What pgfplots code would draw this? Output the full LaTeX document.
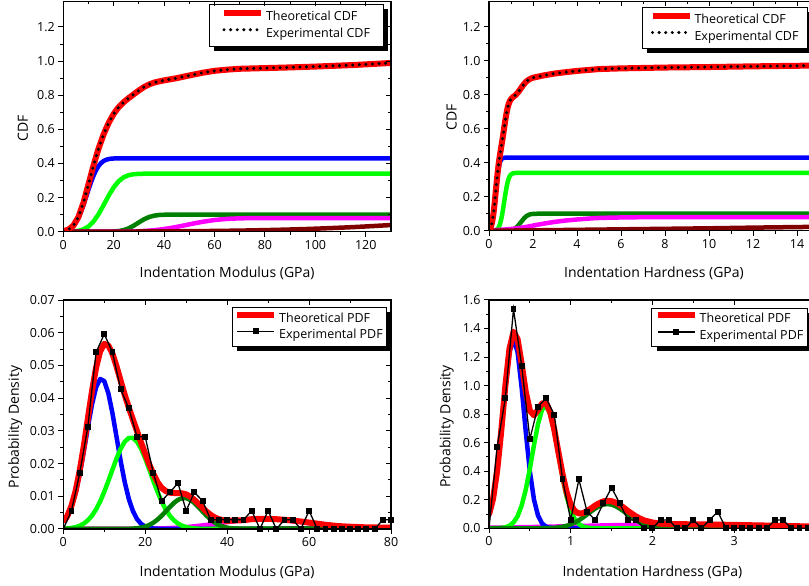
\documentclass[border=0pt]{standalone}
\usepackage{pgfplots}
\pgfplotsset{compat=1.18}
\usepackage{fontspec}
\setmainfont{Open Sans}
\definecolor{cblue}{RGB}{0,0,255}
\definecolor{cgreen}{RGB}{0,255,0}
\definecolor{cdgreen}{RGB}{0,128,0}
\definecolor{cmag}{RGB}{255,0,255}
\definecolor{cbrown}{RGB}{128,0,0}
\definecolor{cred}{RGB}{255,0,0}
\pgfplotsset{
 base/.style={scale only axis, anchor=south west, axis line style={line width=1.1pt},
   every tick/.style={black, line width=1pt}, major tick length=5pt, minor tick length=3pt,
   minor x tick num=1, minor y tick num=1, ymin=0, xmin=0, scaled ticks=false},
 main/.style={base, tick align=outside, xtick pos=left, ytick pos=left,
   ticklabel style={font=\fontsize{12.5}{14}\selectfont},
   /pgf/number format/assume math mode=true,
   label style={font=\fontsize{14}{16}\selectfont},
   legend cell align=left,
   legend style={draw=none, fill=none, anchor=center,
     font=\fontsize{12.5}{15}\selectfont, inner sep=0pt, row sep=1.5pt, column sep=1pt,
     nodes={inner xsep=1pt, inner ysep=2pt}},
   legend image code/.code={\draw[mark repeat=2, mark phase=2, ##1] plot coordinates {(0pt,3.5pt) (18.5pt,3.5pt) (37pt,3.5pt)};}},
 frame/.style={base, tick align=inside, xtick pos=right, ytick pos=right, xticklabels={}, yticklabels={}},
 comp/.style={line width=4.5pt, line join=round, forget plot},
 theo/.style={cred, line width=6pt, line join=round},
 expcdf/.style={black, line width=3.4pt, line cap=round, dash pattern=on 0pt off 6.6pt},
 exppdf/.style={black, line width=1.3pt, mark=square*, mark size=2.3pt, mark phase=2, mark options={solid}},
}
% legend frame with solid offset shadow, in axis description coordinates
\newcommand\legbox[4]{%
  \fill[black] ([xshift=5pt,yshift=-5pt]axis description cs:#1,#4) rectangle ([xshift=5pt,yshift=-5pt]axis description cs:#3,#2);
  \filldraw[fill=white, draw=black, line width=0.9pt] (axis description cs:#1,#4) rectangle (axis description cs:#3,#2);}
\begin{document}
\begin{tikzpicture}
\path[use as bounding box] (0,0) rectangle (809pt,586pt);
\clip (0,0) rectangle (809pt,586pt);

%%%%%%%%%%%%%%%% top-left: modulus CDF
\begin{axis}[main, at={(63.3pt,354.3pt)}, width=327.7pt, height=230.3pt, xmax=130, ymax=1.35,
  xtick={0,20,40,60,80,100,120}, ytick={0,0.2,0.4,0.6,0.8,1.0,1.2},
  yticklabel style={/pgf/number format/fixed, /pgf/number format/precision=1, /pgf/number format/fixed zerofill},
  xlabel={Indentation Modulus (GPa)}, ylabel={CDF},
  xlabel style={at={(axis description cs:0.5,-0.179)}, anchor=center},
  ylabel style={at={(axis description cs:-0.123,0.45)}, anchor=center},
  legend style={at={(axis description cs:0.7101,0.8975)}}]
\addplot[comp, cblue] coordinates {(0,0.0027)(1,0.0056)(2,0.0108)(3,0.0196)(4,0.0334)(5,0.0535)(6,0.0808)(7,0.1155)(8,0.1564)(9,0.2012)(10,0.247)(11,0.2905)(12,0.329)(13,0.361)(14,0.3854)(15,0.4028)(16,0.4144)(17,0.4216)(18,0.4258)(19,0.428)(20,0.4291)(22,0.4298)(24,0.43)(130,0.43)};
\addplot[comp, cgreen] coordinates {(0,0.0001)(2,0.0005)(4,0.0017)(6,0.0051)(8,0.0135)(10,0.0305)(12,0.0599)(14,0.1029)(16,0.156)(18,0.2114)(20,0.2602)(22,0.2965)(24,0.3194)(26,0.3316)(28,0.337)(30,0.3391)(32,0.3398)(35,0.34)(130,0.34)};
\addplot[comp, cdgreen] coordinates {(0,0)(18,0.0004)(20,0.0012)(22,0.0037)(24,0.0095)(26,0.0202)(28,0.036)(30,0.0547)(32,0.0724)(34,0.0858)(36,0.0939)(38,0.0979)(40,0.0994)(44,0.1)(130,0.1)};
\addplot[comp, cmag, smooth] coordinates {(0,0)(15,0.0001)(20,0.0002)(25,0.0009)(30,0.0028)(35,0.0073)(40,0.0157)(45,0.0281)(50,0.043)(55,0.0573)(60,0.0682)(65,0.0749)(70,0.0782)(75,0.0795)(80,0.08)(130,0.08)};
\addplot[comp, cbrown, smooth] coordinates {(0,0.0003)(10,0.0005)(20,0.0007)(30,0.0012)(40,0.0019)(50,0.0029)(60,0.0044)(70,0.0064)(80,0.0092)(90,0.0129)(100,0.0176)(115,0.0269)(130,0.039)};
\addplot[theo] coordinates {(0,0.003)(2,0.0116)(4,0.0354)(6,0.0862)(8,0.170)(10,0.278)(12,0.389)(14,0.488)(16,0.571)(18,0.638)(20,0.691)(22,0.731)(24,0.760)(26,0.784)(28,0.806)(30,0.828)(32,0.848)(34,0.863)(36,0.874)(38,0.881)(40,0.887)(45,0.900)(50,0.916)(55,0.931)(60,0.943)(65,0.950)(70,0.955)(80,0.959)(90,0.963)(100,0.968)(115,0.977)(130,0.989)};
\addlegendentry{Theoretical CDF}
\addplot[expcdf] coordinates {(0,0.003)(2,0.0116)(4,0.0354)(6,0.0862)(8,0.170)(10,0.278)(12,0.389)(14,0.488)(16,0.571)(18,0.638)(20,0.691)(22,0.731)(24,0.760)(26,0.784)(28,0.806)(30,0.828)(32,0.848)(34,0.863)(36,0.874)(38,0.881)(40,0.887)(45,0.900)(50,0.916)(55,0.931)(60,0.943)(65,0.950)(70,0.955)(80,0.959)(90,0.963)(100,0.968)(115,0.977)(130,0.989)};
\addlegendentry{Experimental CDF}
\legbox{0.4446}{0.8063}{0.9756}{0.9887}
\end{axis}
\begin{axis}[frame, at={(63.3pt,354.3pt)}, width=327.7pt, height=230.3pt, xmax=130, ymax=1.35,
  xtick={0,20,40,60,80,100,120}, ytick={0,0.2,0.4,0.6,0.8,1.0,1.2}]
\end{axis}

%%%%%%%%%%%%%%%% top-right: hardness CDF
\begin{axis}[main, at={(489pt,355.3pt)}, width=330pt, height=229.2pt, xmax=15, ymax=1.35,
  xtick={0,2,4,6,8,10,12,14}, ytick={0,0.2,0.4,0.6,0.8,1.0,1.2},
  yticklabel style={/pgf/number format/fixed, /pgf/number format/precision=1, /pgf/number format/fixed zerofill},
  xlabel={Indentation Hardness (GPa)}, ylabel={CDF},
  xlabel style={at={(axis description cs:0.5,-0.184)}, anchor=center},
  ylabel style={at={(axis description cs:-0.113,0.496)}, anchor=center},
  legend style={at={(axis description cs:0.7136,0.8853)}}]
\addplot[comp, cblue] coordinates {(0,0.0043)(0.05,0.0113)(0.1,0.026)(0.15,0.0526)(0.2,0.094)(0.25,0.150)(0.3,0.215)(0.35,0.280)(0.4,0.336)(0.45,0.3774)(0.5,0.404)(0.55,0.4187)(0.6,0.4257)(0.7,0.4296)(0.8,0.43)(15,0.43)};
\addplot[comp, cgreen] coordinates {(0,0)(0.25,0.0009)(0.3,0.0023)(0.35,0.0053)(0.4,0.0113)(0.45,0.0219)(0.5,0.039)(0.55,0.0639)(0.6,0.0967)(0.65,0.136)(0.7,0.1786)(0.75,0.2203)(0.8,0.2573)(0.85,0.2871)(0.9,0.3088)(0.95,0.323)(1.0,0.3315)(1.1,0.3384)(1.2,0.3398)(1.3,0.34)(15,0.34)};
\addplot[comp, cdgreen] coordinates {(0,0)(0.9,0.001)(1.0,0.0028)(1.1,0.0068)(1.2,0.0144)(1.3,0.0262)(1.4,0.0416)(1.5,0.0584)(1.6,0.0738)(1.7,0.0856)(1.8,0.0932)(1.9,0.0972)(2.0,0.099)(2.2,0.0999)(15,0.1)};
\addplot[comp, cmag, smooth] coordinates {(0,0.002)(0.5,0.005)(1,0.01)(1.5,0.018)(2,0.03)(2.5,0.042)(3,0.052)(3.5,0.06)(4,0.066)(4.5,0.071)(5,0.075)(6,0.078)(7,0.0795)(8,0.08)(15,0.08)};
\addplot[comp, cbrown] coordinates {(0,0)(2,0.002)(4,0.005)(6,0.008)(8,0.011)(10,0.014)(12,0.018)(15,0.023)};
\addplot[theo] coordinates {(0,0.006)(0.05,0.013)(0.1,0.029)(0.15,0.056)(0.2,0.097)(0.25,0.154)(0.3,0.221)(0.35,0.289)(0.4,0.351)(0.45,0.404)(0.5,0.448)(0.55,0.488)(0.6,0.528)(0.65,0.571)(0.7,0.615)(0.75,0.658)(0.8,0.695)(0.85,0.726)(0.9,0.749)(0.95,0.764)(1.0,0.775)(1.1,0.788)(1.2,0.798)(1.3,0.812)(1.4,0.829)(1.5,0.848)(1.6,0.865)(1.7,0.879)(1.8,0.889)(1.9,0.896)(2.0,0.901)(2.5,0.915)(3,0.926)(3.5,0.934)(4,0.941)(5,0.952)(6,0.956)(8,0.961)(10,0.964)(12,0.968)(15,0.973)};
\addlegendentry{Theoretical CDF}
\addplot[expcdf] coordinates {(0,0.006)(0.05,0.013)(0.1,0.029)(0.15,0.056)(0.2,0.097)(0.25,0.154)(0.3,0.221)(0.35,0.289)(0.4,0.351)(0.45,0.404)(0.5,0.448)(0.55,0.488)(0.6,0.528)(0.65,0.571)(0.7,0.615)(0.75,0.658)(0.8,0.695)(0.85,0.726)(0.9,0.749)(0.95,0.764)(1.0,0.775)(1.1,0.788)(1.2,0.798)(1.3,0.812)(1.4,0.829)(1.5,0.848)(1.6,0.865)(1.7,0.879)(1.8,0.889)(1.9,0.896)(2.0,0.901)(2.5,0.915)(3,0.926)(3.5,0.934)(4,0.941)(5,0.952)(6,0.956)(8,0.961)(10,0.964)(12,0.968)(15,0.973)};
\addlegendentry{Experimental CDF}
\legbox{0.4636}{0.7958}{0.9636}{0.9747}
\end{axis}
\begin{axis}[frame, at={(489pt,355.3pt)}, width=330pt, height=229.2pt, xmax=15, ymax=1.35,
  xtick={0,2,4,6,8,10,12,14}, ytick={0,0.2,0.4,0.6,0.8,1.0,1.2}]
\end{axis}

%%%%%%%%%%%%%%%% bottom-left: modulus PDF
\begin{axis}[main, at={(63.3pt,57pt)}, width=327.7pt, height=229pt, xmax=80, ymax=0.07,
  xtick={0,20,40,60,80}, ytick={0,0.01,0.02,0.03,0.04,0.05,0.06,0.07},
  yticklabel style={/pgf/number format/fixed, /pgf/number format/precision=2, /pgf/number format/fixed zerofill},
  xlabel={Indentation Modulus (GPa)}, ylabel={Probability Density},
  xlabel style={at={(axis description cs:0.5,-0.188)}, anchor=center},
  ylabel style={at={(axis description cs:-0.147,0.445)}, anchor=center},
  legend style={at={(axis description cs:0.7498,0.8836)}}]
\addplot[comp, cbrown] coordinates {(0,0.00002)(20,0.00005)(40,0.0001)(60,0.00018)(80,0.00032)};
\addplot[comp, cmag, smooth] coordinates {(0,0)(10,0.00001)(15,0.00002)(20,0.00007)(24,0.00018)(26,0.00028)(28,0.00041)(30,0.00059)(32,0.00082)(34,0.0011)(36,0.00141)(38,0.00176)(40,0.00211)(42,0.00243)(44,0.00271)(46,0.00292)(48,0.00303)(50,0.00303)(52,0.00292)(55,0.00258)(58,0.00211)(61,0.00158)(64,0.0011)(67,0.0007)(70,0.00041)(74,0.00018)(80,0.00004)};
\addplot[comp, cblue] coordinates {(0,0.00206)(1,0.00387)(2,0.00678)(3,0.01105)(4,0.01676)(5,0.02367)(6,0.0311)(7,0.03804)(8,0.0433)(9,0.04585)(10,0.0452)(11,0.04146)(12,0.0354)(13,0.02812)(14,0.0208)(15,0.0143)(16,0.00917)(17,0.00546)(18,0.00303)(19,0.00156)(20,0.00075)(21,0.00034)(22,0.00014)(24,0.00001)(80,0)};
\addplot[comp, cgreen] coordinates {(0,0.00008)(1,0.00017)(2,0.00032)(3,0.00057)(4,0.001)(5,0.00166)(6,0.00267)(7,0.00408)(8,0.00599)(9,0.00843)(10,0.01136)(11,0.01468)(12,0.01817)(13,0.02156)(14,0.0245)(15,0.02668)(16,0.02785)(17,0.02785)(18,0.02668)(19,0.0245)(20,0.02156)(21,0.01817)(22,0.01468)(23,0.01136)(24,0.00843)(25,0.00599)(26,0.00408)(27,0.00267)(28,0.00166)(29,0.001)(30,0.00057)(31,0.00032)(32,0.00017)(33,0.00008)(35,0.00002)(80,0)};
\addplot[comp, cdgreen] coordinates {(0,0)(14,0.00001)(15,0.00003)(16,0.00005)(17,0.00011)(18,0.00022)(19,0.00042)(20,0.00074)(21,0.00123)(22,0.00193)(23,0.00287)(24,0.00403)(25,0.00535)(26,0.00671)(27,0.00796)(28,0.00891)(29,0.00943)(30,0.00943)(31,0.00891)(32,0.00796)(33,0.00671)(34,0.00535)(35,0.00403)(36,0.00287)(37,0.00193)(38,0.00123)(39,0.00074)(40,0.00042)(41,0.00022)(42,0.00011)(44,0.00002)(80,0)};
\addplot[theo] coordinates {(0,0.0021)(1,0.0040)(2,0.0071)(3,0.0116)(4,0.0178)(5,0.0253)(6,0.0338)(7,0.0421)(8,0.0493)(9,0.0543)(10,0.0566)(11,0.0561)(12,0.0536)(13,0.0497)(14,0.0453)(15,0.0410)(16,0.0371)(17,0.0334)(18,0.0299)(19,0.0264)(20,0.0230)(21,0.0197)(22,0.0168)(23,0.0143)(24,0.0126)(25,0.0116)(26,0.0111)(27,0.0110)(28,0.0110)(29,0.0109)(30,0.0106)(31,0.0099)(32,0.0089)(33,0.0077)(34,0.0065)(35,0.0053)(36,0.0043)(37,0.0035)(38,0.0030)(39,0.0027)(40,0.0025)(42,0.0026)(44,0.0027)(46,0.0030)(48,0.0031)(50,0.0031)(52,0.0030)(55,0.0027)(58,0.0023)(61,0.0018)(64,0.0013)(67,0.0009)(70,0.0007)(74,0.0005)(80,0.0004)};
\addlegendentry{Theoretical PDF}
\addplot[exppdf] coordinates {(0,0)(2,0.0056)(4,0.017)(6,0.0313)(8,0.054)(10,0.0596)(12,0.054)(14,0.0427)(16,0.0369)(18,0.0282)(20,0.0282)(22,0.017)(24,0.0086)(26,0.0112)(28,0.014)(30,0.0056)(32,0.0112)(34,0.0086)(36,0.0028)(38,0.0028)(40,0.0028)(42,0.0028)(44,0.0028)(46,0.0056)(48,0)(50,0.0056)(52,0)(54,0.0028)(56,0.0028)(58,0)(60,0.0056)(62,0)(64,0)(66,0)(68,0)(70,0)(72,0)(74,0)(76,0)(78,0.0028)(80,0.0028)};
\addlegendentry{Experimental PDF}
\legbox{0.5148}{0.7991}{0.9847}{0.9681}
\end{axis}
\begin{axis}[frame, at={(63.3pt,57pt)}, width=327.7pt, height=229pt, xmax=80, ymax=0.07,
  xtick={0,20,40,60,80}, ytick={0,0.01,0.02,0.03,0.04,0.05,0.06,0.07}]
\end{axis}

%%%%%%%%%%%%%%%% bottom-right: hardness PDF
\begin{axis}[main, at={(489pt,57.7pt)}, width=326.8pt, height=228.3pt, xmax=4, ymax=1.6,
  xtick={0,1,2,3}, ytick={0,0.2,0.4,0.6,0.8,1.0,1.2,1.4,1.6},
  yticklabel style={/pgf/number format/fixed, /pgf/number format/precision=1, /pgf/number format/fixed zerofill},
  xlabel={Indentation Hardness (GPa)}, ylabel={Probability Density},
  xlabel style={at={(axis description cs:0.5,-0.191)}, anchor=center},
  ylabel style={at={(axis description cs:-0.129,0.446)}, anchor=center},
  legend style={at={(axis description cs:0.736,0.8811)}}]
\addplot[comp, cbrown] coordinates {(0,0.001)(4,0.002)};
\addplot[comp, cmag, smooth] coordinates {(0,0.0042)(0.5,0.0086)(1,0.0148)(1.5,0.0213)(2,0.0258)(2.3,0.0266)(2.6,0.0258)(3,0.0225)(3.5,0.0161)(4,0.0098)};
\addplot[comp, cblue] coordinates {(0,0.089)(0.05,0.203)(0.1,0.400)(0.15,0.677)(0.2,0.985)(0.25,1.234)(0.3,1.33)(0.35,1.234)(0.4,0.985)(0.45,0.677)(0.5,0.400)(0.55,0.203)(0.6,0.089)(0.65,0.0335)(0.7,0.0109)(0.75,0.003)(0.8,0.0008)(0.9,0)(4,0)};
\addplot[comp, cgreen] coordinates {(0,0)(0.1,0.0008)(0.15,0.0025)(0.2,0.007)(0.25,0.0178)(0.3,0.041)(0.35,0.085)(0.4,0.160)(0.45,0.271)(0.5,0.417)(0.55,0.581)(0.6,0.731)(0.65,0.833)(0.7,0.858)(0.75,0.800)(0.8,0.675)(0.85,0.515)(0.9,0.356)(0.95,0.222)(1.0,0.1255)(1.05,0.0642)(1.1,0.0297)(1.15,0.0124)(1.2,0.0047)(1.25,0.0016)(1.3,0.0005)(1.4,0)(4,0)};
\addplot[comp, cdgreen] coordinates {(0,0)(0.6,0.0002)(0.7,0.001)(0.8,0.0037)(0.85,0.0065)(0.9,0.011)(0.95,0.0177)(1.0,0.0272)(1.05,0.040)(1.1,0.0561)(1.15,0.0752)(1.2,0.0965)(1.25,0.1184)(1.3,0.1387)(1.35,0.1553)(1.4,0.166)(1.45,0.17)(1.5,0.166)(1.55,0.1553)(1.6,0.1387)(1.65,0.1184)(1.7,0.0965)(1.75,0.0752)(1.8,0.0561)(1.85,0.040)(1.9,0.0272)(1.95,0.0177)(2.0,0.011)(2.05,0.0065)(2.1,0.0037)(2.2,0.001)(2.3,0.0002)(4,0)};
\addplot[theo] coordinates {(0,0.095)(0.05,0.208)(0.1,0.405)(0.15,0.682)(0.2,0.997)(0.25,1.257)(0.3,1.378)(0.35,1.326)(0.4,1.152)(0.45,0.956)(0.5,0.825)(0.55,0.792)(0.6,0.829)(0.65,0.875)(0.7,0.878)(0.75,0.812)(0.8,0.689)(0.85,0.532)(0.9,0.380)(0.95,0.253)(1.0,0.168)(1.05,0.120)(1.1,0.104)(1.15,0.106)(1.2,0.121)(1.25,0.139)(1.3,0.160)(1.35,0.176)(1.4,0.189)(1.45,0.193)(1.5,0.190)(1.55,0.180)(1.6,0.164)(1.65,0.144)(1.7,0.122)(1.75,0.102)(1.8,0.083)(1.85,0.068)(1.9,0.055)(2.0,0.041)(2.1,0.032)(2.2,0.0295)(2.5,0.028)(3.0,0.024)(3.5,0.018)(4.0,0.012)};
\addlegendentry{Theoretical PDF}
\addplot[exppdf] coordinates {(0,0)(0.1,0.572)(0.2,0.911)(0.3,1.535)(0.4,1.138)(0.5,0.626)(0.6,0.853)(0.7,0.911)(0.8,0.794)(0.9,0.343)(1.0,0.058)(1.1,0.343)(1.2,0.117)(1.3,0.058)(1.4,0.175)(1.5,0.285)(1.6,0.175)(1.7,0.058)(1.8,0.058)(1.9,0)(2.0,0)(2.1,0.058)(2.2,0.058)(2.3,0)(2.4,0)(2.5,0.058)(2.6,0)(2.7,0.058)(2.8,0.117)(2.9,0)(3.0,0)(3.1,0)(3.2,0)(3.3,0)(3.4,0)(3.5,0.058)(3.6,0.058)(3.7,0)(3.8,0)(3.9,0)(4.0,0)};
\addlegendentry{Experimental PDF}
\legbox{0.4979}{0.7985}{0.974}{0.9636}
\end{axis}
\begin{axis}[frame, at={(489pt,57.7pt)}, width=326.8pt, height=228.3pt, xmax=4, ymax=1.6,
  xtick={0,1,2,3}, ytick={0,0.2,0.4,0.6,0.8,1.0,1.2,1.4,1.6}]
\end{axis}
\end{tikzpicture}
\end{document}
